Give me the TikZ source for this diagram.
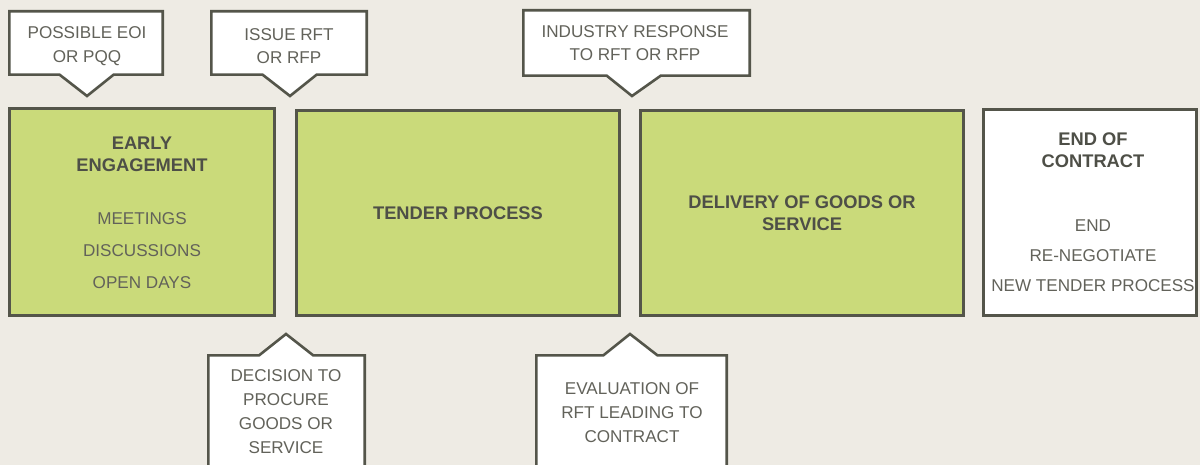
\documentclass[tikz,border=0pt]{standalone}
\usepackage{fontspec}
\setmainfont{Liberation Sans}
\usetikzlibrary{shapes.callouts}
\definecolor{bg}{HTML}{EEEBE4}
\definecolor{leaf}{HTML}{CADA7A}
\definecolor{edge}{HTML}{54554A}
\definecolor{txt}{HTML}{62625A}
\definecolor{hd}{HTML}{4E4F47}
\begin{document}
\begin{tikzpicture}[x=1pt,y=-1pt,
  stage/.style={draw=edge, line width=2.6pt, fill=leaf, rectangle, inner sep=0pt},
  endstage/.style={stage, fill=white},
  note/.style={rectangle callout, draw=edge, line width=2.6pt, fill=white, inner sep=0pt,
    callout pointer width=54pt},
  notetext/.style={align=center, text=txt, inner sep=0pt, font=\fontsize{17.1}{23.5}\selectfont},
  head/.style={align=center, text=hd, font=\bfseries\fontsize{18.3}{22}\selectfont, inner sep=0pt},
  item/.style={align=center, text=txt, font=\fontsize{17.1}{32}\selectfont, inner sep=0pt}]
\useasboundingbox (0,0) rectangle (1200,465);
\fill[bg] (0,0) rectangle (1200,465);
\clip (0,0) rectangle (1200,465);
% stages
\node[stage, minimum width=265.4pt, minimum height=207.4pt] (early) at (142,212) {};
\node[stage, minimum width=323.4pt, minimum height=205.4pt] (tender) at (458,213) {};
\node[stage, minimum width=323.4pt, minimum height=205.4pt] (deliv) at (802,213) {};
\node[endstage, minimum width=213.4pt, minimum height=206.4pt] (endc) at (1090,212.5) {};
% stage texts
\node[head] (earlyT) at (142,154) {EARLY\\ENGAGEMENT};
\node[item] (earlyI) at (142,250.5) {MEETINGS\\DISCUSSIONS\\OPEN DAYS};
\node[head] (tenderT) at (tender.center) {TENDER PROCESS};
\node[head] (delivT) at (deliv.center) {DELIVERY OF GOODS OR\\SERVICE};
\node[head] (endT) at (1093,150.5) {END OF\\CONTRACT};
\node[item, font=\fontsize{17.1}{30}\selectfont] (endI) at (1093,255.5) {END\\RE-NEGOTIATE\\NEW TENDER PROCESS};
% callouts
\node[note, minimum width=153.4pt, minimum height=63.4pt, callout absolute pointer={(87,96)}] (eoi) at (86,43) {};
\node[notetext] (eoiT) at (87,46) {POSSIBLE EOI\\OR PQQ};
\node[note, minimum width=155.4pt, minimum height=63.4pt, callout absolute pointer={(290,96)}] (rft) at (289,43) {};
\node[notetext] (rftT) at (289,46) {ISSUE RFT\\OR RFP};
\node[note, minimum width=226.4pt, minimum height=65.4pt, callout absolute pointer={(632,96)}] (resp) at (636.5,43) {};
\node[notetext] (respT) at (635,43) {INDUSTRY RESPONSE\\TO RFT OR RFP};
\node[note, minimum width=156.4pt, minimum height=111.4pt, callout absolute pointer={(286,334)}] (dec) at (286.5,411) {};
\node[notetext, font=\fontsize{17.1}{24}\selectfont] (decT) at (286,411.5) {DECISION TO\\PROCURE\\GOODS OR\\SERVICE};
\node[note, minimum width=190.4pt, minimum height=113.4pt, callout absolute pointer={(630,334)}] (eval) at (631.5,412) {};
\node[notetext, font=\fontsize{17.1}{24}\selectfont] (evalT) at (632,412.5) {EVALUATION OF\\RFT LEADING TO\\CONTRACT};
\end{tikzpicture}
\end{document}
